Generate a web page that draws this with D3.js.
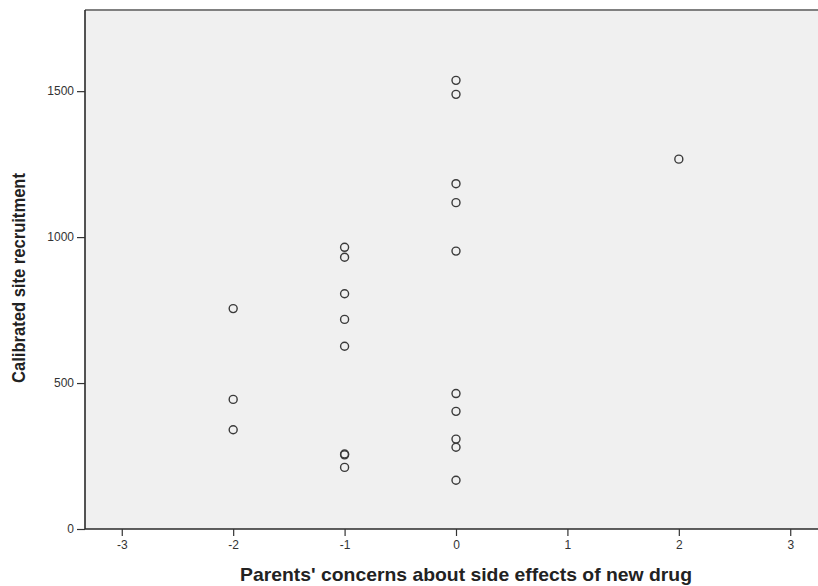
<!DOCTYPE html>
<html>
<head>
<meta charset="utf-8">
<script src="https://cdn.jsdelivr.net/npm/d3@7"></script>
<style>
    body { margin: 0; background: #fff; }
    svg { display: block; font-family: "Liberation Sans", Arial, sans-serif; }
</style>
</head>
<body>
<div id="chart"></div>
<script>
// parents' concern score and calibrated recruitment per site
const concern = [-2, -2, -2,
    -1, -1, -1, -1, -1, -1, -1, -1,
    0, 0, 0, 0, 0, 0, 0, 0, 0, 0,
    2];
const recruitment = [755, 444, 340,
    965, 931, 806, 718, 626, 257, 254, 211,
    1537, 1489, 1183, 1118, 952, 464, 403, 308, 280, 167,
    1267];
const xTicks = [-3, -2, -1, 0, 1, 2, 3];
const yTicks = [0, 500, 1000, 1500];

const width = 818, height = 586;
const margin = { top: 10, left: 85, bottom: 57 };
const fontFamily = '"Liberation Sans", Arial, sans-serif';

const svg = d3.select('#chart').append('svg')
    .attr('width', width)
    .attr('height', height);

const x = d3.scaleLinear().domain([-3.33, 3.33]).range([margin.left, 827]);
const y = d3.scaleLinear().domain([0, 1778]).range([height - margin.bottom, margin.top]);

// plot area
svg.append('rect')
    .attr('x', margin.left)
    .attr('y', margin.top)
    .attr('width', 827 - margin.left)
    .attr('height', y(0) - margin.top)
    .attr('fill', '#f0f0f0');

svg.append('line')
    .attr('x1', margin.left).attr('x2', width)
    .attr('y1', margin.top).attr('y2', margin.top)
    .attr('stroke', '#808080').attr('stroke-width', 2);

const xAxis = svg.append('g')
    .attr('transform', `translate(0,${y(0)})`)
    .call(d3.axisBottom(x).tickValues(xTicks).tickSize(7).tickPadding(4).tickFormat(d => String(d)));

const yAxis = svg.append('g')
    .attr('transform', `translate(${margin.left},0)`)
    .call(d3.axisLeft(y).tickValues(yTicks).tickSize(8).tickPadding(3).tickFormat(d => String(d)));

[xAxis, yAxis].forEach(g => {
    g.select('.domain').attr('stroke', '#2a2a2a').attr('stroke-width', 1.6);
    g.selectAll('.tick line').attr('stroke', '#333').attr('stroke-width', 1.2);
    g.selectAll('.tick text')
        .attr('fill', '#333')
        .attr('font-size', 12)
        .attr('font-family', fontFamily);
});
xAxis.select('.domain').attr('d', `M${margin.left},0H${width}`);
yAxis.select('.domain').attr('d', `M0,${margin.top}V${y(0)}`);

svg.append('g')
    .selectAll('circle')
    .data(concern.map((c, i) => ({ c, r: recruitment[i] })))
    .join('circle')
    .attr('cx', d => x(d.c))
    .attr('cy', d => y(d.r))
    .attr('r', 4)
    .attr('fill', 'none')
    .attr('stroke', '#3a3a3a')
    .attr('stroke-width', 1.4);

svg.append('text')
    .attr('x', 466)
    .attr('y', 581)
    .attr('text-anchor', 'middle')
    .attr('font-size', 19)
    .attr('font-weight', 'bold')
    .attr('font-family', fontFamily)
    .attr('fill', '#222')
    .attr('textLength', 452)
    .attr('lengthAdjust', 'spacingAndGlyphs')
    .text("Parents' concerns about side effects of new drug");

svg.append('text')
    .attr('transform', 'translate(25,278) rotate(-90)')
    .attr('text-anchor', 'middle')
    .attr('font-size', 19)
    .attr('font-weight', 'bold')
    .attr('font-family', fontFamily)
    .attr('fill', '#222')
    .attr('textLength', 210)
    .attr('lengthAdjust', 'spacingAndGlyphs')
    .text('Calibrated site recruitment');
</script>
</body>
</html>
